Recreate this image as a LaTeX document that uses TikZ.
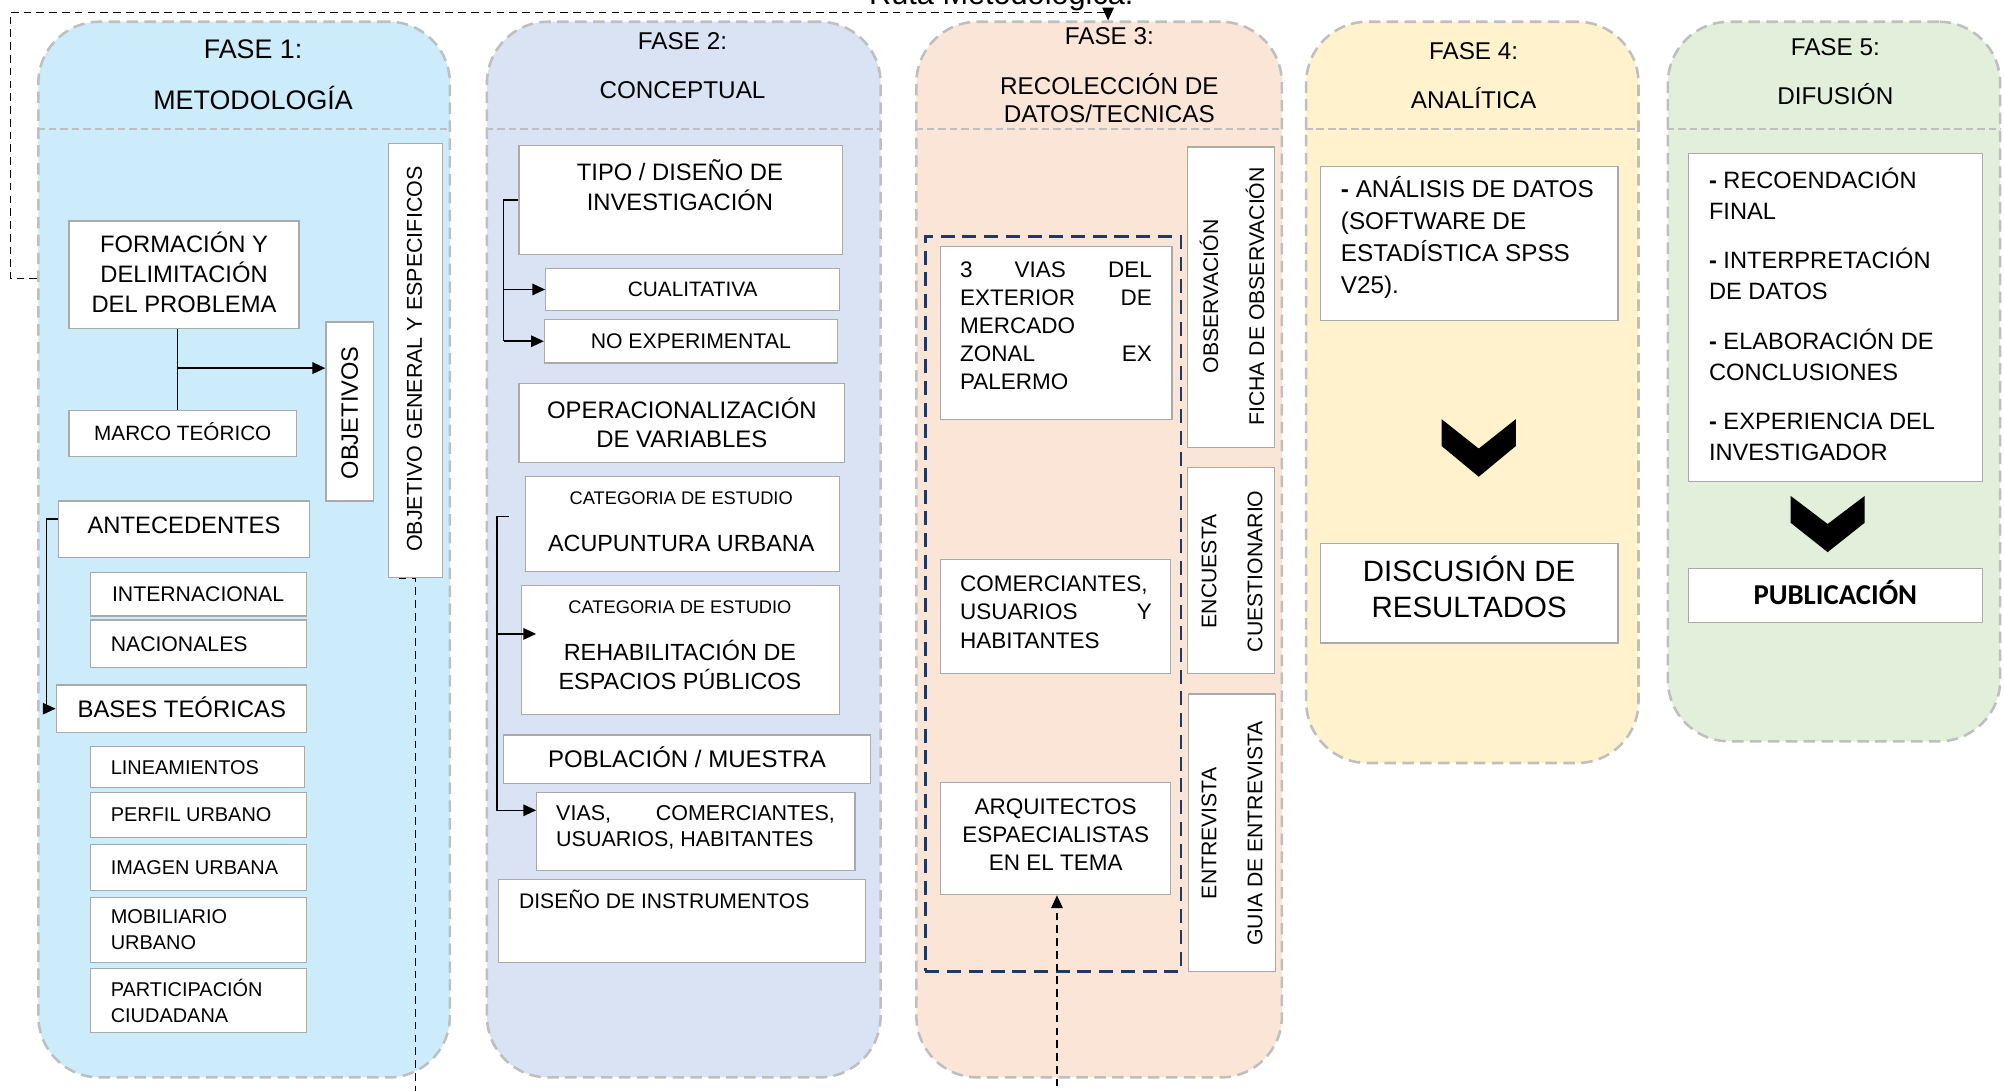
\documentclass[tikz,border=0pt]{standalone}
\usepackage{fontspec}
\setmainfont{Liberation Sans}
\newfontfamily\calib{Carlito}
\usetikzlibrary{fit,arrows.meta}
\definecolor{cA}{RGB}{204,236,252}
\definecolor{cB}{RGB}{218,227,243}
\definecolor{cC}{RGB}{251,229,214}
\definecolor{cD}{RGB}{255,242,204}
\definecolor{cE}{RGB}{226,239,218}
\definecolor{pborder}{RGB}{191,191,191}
\definecolor{bborder}{RGB}{170,170,170}
\definecolor{navy}{RGB}{32,56,100}
\newcommand\fsz[2]{\fontsize{#1}{#2}\selectfont}
\begin{document}
\begin{tikzpicture}[x=1pt,y=-1pt,
  phase/.style={draw=pborder, line width=2pt, dash pattern=on 9pt off 5pt, rounded corners=48pt, inner sep=0pt},
  hsep/.style={draw=pborder, line width=1pt, dash pattern=on 6pt off 3pt},
  box/.style={draw=bborder, line width=1pt, fill=white, inner sep=0pt},
  lbl/.style={inner sep=0pt},
  mlc/.style={inner sep=0pt, align=center},
  mll/.style={inner sep=0pt, align=left, anchor=west},
  capht/.style={text height=#1, text depth=0pt},
  hdr/.style={inner sep=0pt, font=\fsz{19}{22}},
  conn/.style={draw=black, line width=1.2pt},
  atip/.style={-{Triangle[length=10pt,width=9pt]}},
  route/.style={draw=black, line width=1pt, dash pattern=on 6pt off 4pt},
  chev/.style={fill=black, draw=none},
  rot/.style={rotate=90, inner sep=0pt, align=center, font=\fsz{16.6}{36}},
]
\useasboundingbox (0,0) rectangle (1568,853.6);

% top label (cut by page edge, as in the reference)
\node[anchor=base, inner sep=0pt, font=\fsz{24}{26}] (ruta) at (783.5,3.5) {Ruta Metodológica.};

% phases
\node[phase, fill=cA, fit={(30,17) (352,843)}] (p1) {};
\node[phase, fill=cB, fit={(381,17) (689,843)}] (p2) {};
\node[phase, fill=cC, fit={(717,17) (1003,843)}] (p3) {};
\node[phase, fill=cD, fit={(1022,17) (1282,597)}] (p4) {};
\node[phase, fill=cE, fit={(1305,17) (1565,580)}] (p5) {};

\coordinate (hy) at (0,101);
\foreach \p in {p1,p2,p3,p4,p5}{\draw[hsep] (\p.west |- hy) -- (\p.east |- hy);}

% headers
\node[hdr, font=\fsz{21}{24}, capht=15pt] (h1a) at (198,38) {FASE 1:};
\node[hdr, font=\fsz{21}{24}, capht=15pt] (h1b) at (198,78) {METODOLOGÍA};
\node[hdr, capht=13.6pt] (h2a) at (534,32) {FASE 2:};
\node[hdr, capht=13.6pt] (h2b) at (534,70) {CONCEPTUAL};
\node[hdr, capht=13.6pt] (h3a) at (868,28) {FASE 3:};
\node[hdr, align=center] (h3b) at (868,77) {RECOLECCIÓN DE\\DATOS/TECNICAS};
\node[hdr, capht=13.6pt] (h4a) at (1153,40) {FASE 4:};
\node[hdr, capht=13.6pt] (h4b) at (1153,78) {ANALÍTICA};
\node[hdr, capht=13.6pt] (h5a) at (1436,37) {FASE 5:};
\node[hdr, capht=13.6pt] (h5b) at (1436,75) {DIFUSIÓN};

% ---------- FASE 1 ----------
\node[box, fit={(54,173) (234,257)}] (form) {};
\node[mlc, font=\fsz{18.6}{23.5}] (formt) at (144,213) {FORMACIÓN Y\\DELIMITACIÓN\\DEL PROBLEMA};
\node[box, fit={(54,321) (232,357)}] (marco) {};
\node[lbl, font=\fsz{16.2}{20}, capht=11.6pt] (marcot) at (marco.center) {MARCO TEÓRICO};
\node[box, fit={(255,252) (292,392)}] (obj) {};
\node[rotate=90, lbl, font=\fsz{18.5}{20}, capht=13.2pt] (objt) at (273.5,323) {OBJETIVOS};
\node[box, fit={(304,112) (346,452)}] (ogen) {};
\node[rotate=90, lbl, font=\fsz{16.8}{20}, capht=12pt] (ogent) at (324,281) {OBJETIVO GENERAL Y ESPECIFICOS};
\node[box, fit={(46,392) (242,436)}] (ante) {};
\node[lbl, font=\fsz{18.6}{22}, capht=13.3pt] (antet) at (144,411) {ANTECEDENTES};
\node[box, fit={(71,448) (240,482)}] (intl) {};
\node[lbl, anchor=west, font=\fsz{16.6}{20}, capht=11.9pt] (intlt) at ([xshift=17pt]intl.west) {INTERNACIONAL};
\node[box, fit={(71,485) (240,522)}] (nac) {};
\node[lbl, anchor=west, font=\fsz{16.6}{20}, capht=11.9pt] (nact) at ([xshift=16pt]nac.west) {NACIONALES};
\node[box, fit={(44,536) (240,573)}] (bases) {};
\node[lbl, anchor=west, font=\fsz{18.7}{22}, capht=13.4pt] (basest) at ([xshift=17pt]bases.west) {BASES TEÓRICAS};
\node[box, fit={(71,584) (238,616)}] (lin) {};
\node[lbl, anchor=west, font=\fsz{15.6}{20}, capht=11.2pt] (lint) at ([xshift=16pt]lin.west) {LINEAMIENTOS};
\node[box, fit={(71,620) (240,655)}] (perf) {};
\node[lbl, anchor=west, font=\fsz{15.6}{20}, capht=11.2pt] (perft) at ([xshift=16pt]perf.west) {PERFIL URBANO};
\node[box, fit={(71,661) (240,697)}] (imag) {};
\node[lbl, anchor=west, font=\fsz{15.6}{20}, capht=11.2pt] (imagt) at ([xshift=16pt]imag.west) {IMAGEN URBANA};
\node[box, fit={(71,702) (240,753)}] (mob) {};
\node[mll, font=\fsz{15.6}{20}] (mobt) at ([xshift=16pt]mob.west) {MOBILIARIO\\URBANO};
\node[box, fit={(71,758) (240,808)}] (part) {};
\node[mll, font=\fsz{15.6}{20}] (partt) at ([xshift=16pt]part.west) {PARTICIPACIÓN\\CIUDADANA};

\coordinate (j1) at (139,288);
\draw[conn] (form.south -| j1) -- (marco.north -| j1);
\draw[conn, atip] (j1) -- (obj.west |- j1);
\draw[conn, atip] ([yshift=8pt]ante.west) -- ++(-9,0) |- (bases.west);
\coordinate (ogbot) at (324,880);
\draw[route] ([xshift=-13pt]ogen.south) -- (ogen.south) -- (ogen.south |- ogbot);

% ---------- FASE 2 ----------
\node[box, fit={(406,114) (659,199)}] (tipo) {};
\node[mlc, font=\fsz{18.6}{24}] (tipot) at (532,145) {TIPO / DISEÑO DE\\INVESTIGACIÓN};
\node[box, fit={(427,210) (657,243)}] (cual) {};
\node[lbl, font=\fsz{16.3}{20}, capht=11.7pt] (cualt) at (cual.center) {CUALITATIVA};
\node[box, fit={(426,250) (655,284)}] (noexp) {};
\node[lbl, font=\fsz{16.6}{20}, capht=11.9pt] (noexpt) at (noexp.center) {NO EXPERIMENTAL};
\node[box, fit={(406,300) (661,362)}] (oper) {};
\node[mlc, font=\fsz{18.7}{23}] (opert) at (oper.center) {OPERACIONALIZACIÓN\\DE VARIABLES};
\node[box, fit={(411,373) (657,447)}] (acup) {};
\node[lbl, font=\fsz{14.3}{16}, capht=10.2pt] (acupc) at (533,390) {CATEGORIA DE ESTUDIO};
\node[lbl, font=\fsz{18.3}{22}, capht=13.1pt] (acupt) at (533,425) {ACUPUNTURA URBANA};
\node[box, fit={(408,458) (657,559)}] (rehab) {};
\node[lbl, font=\fsz{14.3}{16}, capht=10.2pt] (rehabc) at (532,475) {CATEGORIA DE ESTUDIO};
\node[mlc, font=\fsz{18.3}{23}] (rehabt) at (532,520.5) {REHABILITACIÓN DE\\ESPACIOS PÚBLICOS};
\node[box, fit={(394,575) (681,613)}] (pobl) {};
\node[lbl, font=\fsz{18.8}{22}, capht=13.5pt] (poblt) at (pobl.center) {POBLACIÓN / MUESTRA};
\node[box, fit={(420,620) (669,681)}] (vias) {};
\node[mll, font=\fsz{16.8}{20.5}] (viast) at (435,647.5) {\makebox[218pt][l]{VIAS,\hfill COMERCIANTES,}\\USUARIOS, HABITANTES};
\node[box, fit={(390,688) (677,753)}] (dis) {};
\node[lbl, anchor=west, font=\fsz{16.5}{20}, capht=11.8pt] (dist) at (406,705) {DISEÑO DE INSTRUMENTOS};

\coordinate (b1) at (394,0);
\draw[conn] (tipo.west) -- (b1 |- tipo.west) -- (b1 |- noexp.west);
\draw[conn, atip] (b1 |- noexp.west) -- (noexp.west);
\draw[conn, atip] (b1 |- cual.west) -- (cual.west);
\coordinate (b2s) at (398,404);
\coordinate (b2) at (389,404);
\coordinate (rarr) at ([xshift=12pt,yshift=12.5pt]rehab.west);
\coordinate (varr) at ([yshift=16.5pt]vias.west);
\draw[conn, atip] (b2s) -- (b2) |- (varr);
\draw[conn, atip] (b2 |- rarr) -- (rarr);

% ---------- FASE 3 ----------
\node[draw=navy, line width=2pt, dash pattern=on 11pt off 6pt, inner sep=0pt, fit={(724,185) (924,760)}] (grp) {};
\node[box, fit={(736,193) (917,328)}] (vias3) {};
\node[mll, font=\fsz{17.6}{22}] (vias3t) at (751,255) {\makebox[150pt][l]{3\hfill VIAS\hfill DEL}\\\makebox[150pt][l]{EXTERIOR\hfill DE}\\MERCADO\\\makebox[150pt][l]{ZONAL\hfill EX}\\PALERMO};
\node[box, fit={(736,438) (916,527)}] (com3) {};
\node[mll, font=\fsz{17.6}{22}] (com3t) at (751,479) {COMERCIANTES,\\\makebox[150pt][l]{USUARIOS\hfill Y}\\HABITANTES};
\node[box, fit={(736,612) (916,700)}] (arq) {};
\node[mlc, font=\fsz{17.6}{22}] (arqt) at (826,653) {ARQUITECTOS\\ESPAECIALISTAS\\EN EL TEMA};
\node[box, fit={(929,115) (997,350)}] (obs) {};
\node[rot] (obst) at (964,232) {OBSERVACIÓN\\FICHA DE OBSERVACIÓN};
\node[box, fit={(929,366) (997,527)}] (enc) {};
\node[rot] (enct) at (964,447) {ENCUESTA\\CUESTIONARIO};
\node[box, fit={(930,543) (998,760)}] (ent) {};
\node[rot] (entt) at (964,652) {ENTREVISTA\\GUIA DE ENTREVISTA};
\coordinate (abot) at (827,880);
\draw[route, atip] (abot) -- (abot |- arq.south);

% top route
\coordinate (ry) at (0,218);
\coordinate (rc) at (8,9.5);
\coordinate (ra3) at (867,9.5);
\draw[route, atip] (p1.west |- ry) -- (rc |- ry) -- (rc) -- (ra3) -- (ra3 |- p3.north);

% ---------- FASE 4 ----------
\node[box, fit={(1033,130) (1266,251)}] (anal) {};
\node[mll, font=\fsz{19}{25}] (analt) at (1049,185.5) {\textbf{-} ANÁLISIS DE DATOS\\(SOFTWARE DE\\ESTADÍSTICA SPSS\\V25).};
\fill[chev] (1128,328) -- (1157,351) -- (1186,328) -- (1186,349) -- (1157,373) -- (1128,349) -- cycle;
\node[box, fit={(1033,425) (1266,503)}] (disc) {};
\node[mlc, font=\fsz{23}{28}] (disct) at (1149.5,459) {DISCUSIÓN DE\\RESULTADOS};

% ---------- FASE 5 ----------
\node[box, fit={(1321,120) (1551,377)}] (lst) {};
\node[mll, font=\fsz{18.5}{24}] (lstt) at (1337,246) {\textbf{-} RECOENDACIÓN\\FINAL\\[15pt]\textbf{-} INTERPRETACIÓN\\DE DATOS\\[15pt]\textbf{-} ELABORACIÓN DE\\CONCLUSIONES\\[15pt]\textbf{-} EXPERIENCIA DEL\\INVESTIGADOR};
\fill[chev] (1401,388) -- (1430,410) -- (1459,388) -- (1459,409) -- (1430,432) -- (1401,409) -- cycle;
\node[box, fit={(1321,445) (1551,487)}] (pub) {};
\node[lbl, font=\calib\bfseries\fsz{22.5}{24}, capht=14.5pt] (pubt) at (pub.center) {PUBLICACIÓN};
\end{tikzpicture}
\end{document}
